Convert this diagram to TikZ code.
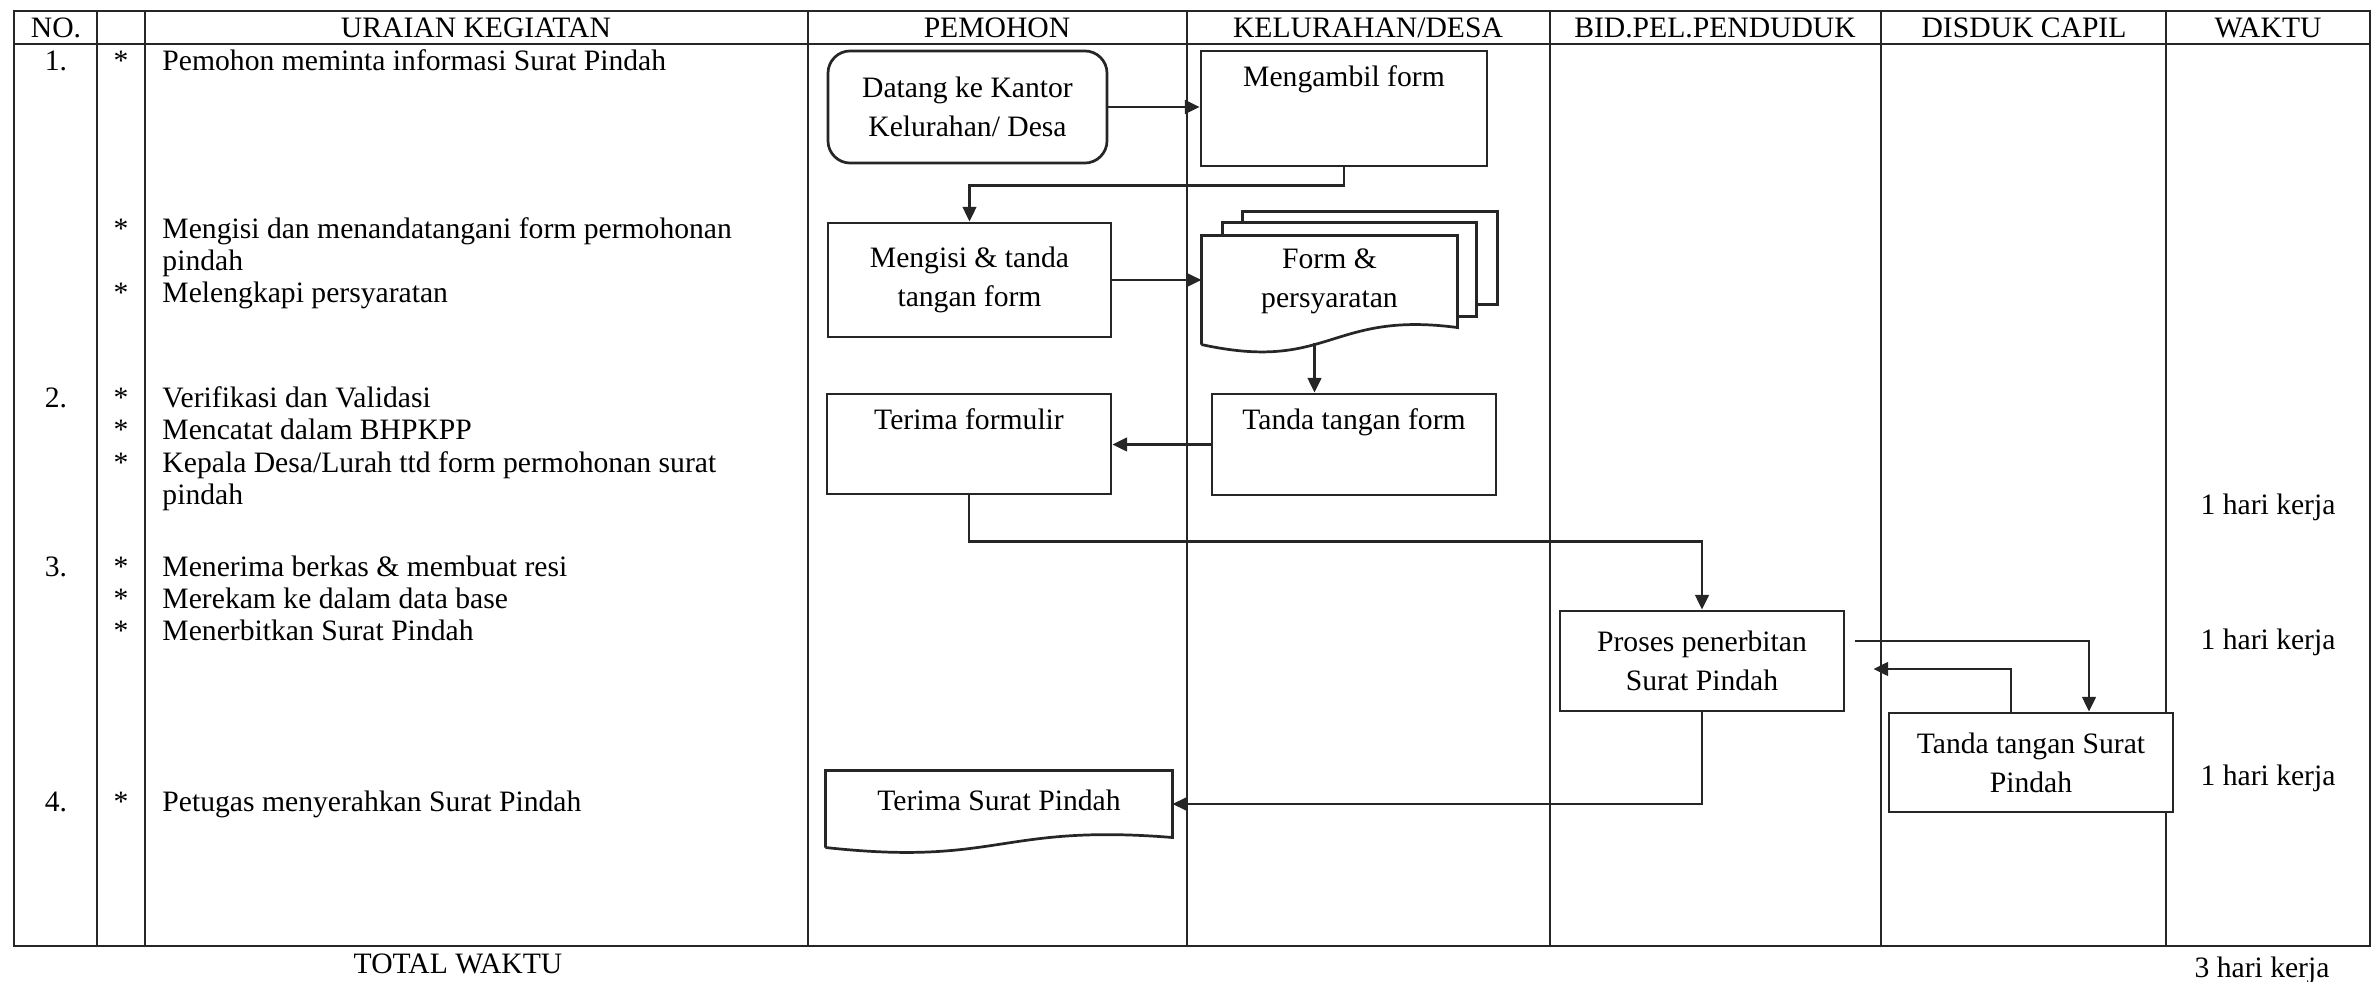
\documentclass[tikz,border=0pt]{standalone}
\usepackage{fontspec}
\setmainfont{Liberation Serif}
\usetikzlibrary{arrows.meta,calc}
\begin{document}
\begin{tikzpicture}[x=0.405pt,y=-0.405pt,
  grid/.style={line width=0.8pt, draw=black!85},
  boxline/.style={line width=1.1pt, draw=black!85},
  procbox/.style={boxline, fill=white, rectangle, inner sep=0pt,
    minimum width=115pt, minimum height=40.5pt, align=center,
    font=\fontsize{12}{15.8}\selectfont},
  docnode/.style={rectangle, inner sep=0pt, align=center,
    font=\fontsize{12}{15.8}\selectfont},
  toptext/.style={label={[anchor=base,yshift=-15pt,inner sep=0pt,
    font=\fontsize{12}{15.8}\selectfont]north:#1}},
  arr/.style={line width=1.1pt, draw=black!85,
    -{Triangle[length=6pt,width=5.5pt]}},
  head/.style={font=\fontsize{12}{14}\selectfont, inner sep=0pt},
  desc/.style={anchor=base west, inner sep=0pt, align=left,
    font=\fontsize{12}{13}\selectfont},
  basetxt/.style={anchor=base, inner sep=0pt, font=\fontsize{12}{13}\selectfont},
]
\useasboundingbox (0,0) rectangle (2374,982);

% ---- table frame ----
\draw[grid] (14,11) rectangle (2370,946);
\draw[grid] (14,44) -- (2370,44);
\foreach \cx in {97,145,808,1187,1550,1881,2166}
  \draw[grid] (\cx,11) -- (\cx,946);

% ---- column headings ----
\node[head] (hno)   at (56,28)   {NO.};
\node[head] (hur)   at (476,28)  {URAIAN KEGIATAN};
\node[head] (hpem)  at (997,28)  {PEMOHON};
\node[head] (hkel)  at (1368,28) {KELURAHAN/DESA};
\node[head] (hbid)  at (1715,28) {BID.PEL.PENDUDUK};
\node[head] (hdis)  at (2024,28) {DISDUK CAPIL};
\node[head] (hwak)  at (2268,28) {WAKTU};

% ---- step numbers ----
\node[basetxt] (n1) at (56,71)  {1.};
\node[basetxt] (n2) at (56,408) {2.};
\node[basetxt] (n3) at (56,577) {3.};
\node[basetxt] (n4) at (56,812) {4.};

% ---- bullets ----
\foreach \by/\bn in {71/s1,239/s2,303/s3,408/s4,440/s5,473/s6,577/s7,609/s8,641/s9,812/s10}
  \node[basetxt] (\bn) at (121,\by) {*};

% ---- activity descriptions (multi-line entries sit on their last baseline) ----
\node[desc] (d1)  at (162,71)  {Pemohon meminta informasi Surat Pindah};
\node[desc] (d2)  at (162,271) {Mengisi dan menandatangani form permohonan\\pindah};
\node[desc] (d3)  at (162,303) {Melengkapi persyaratan};
\node[desc] (d4)  at (162,408) {Verifikasi dan Validasi};
\node[desc] (d5)  at (162,440) {Mencatat dalam BHPKPP};
\node[desc] (d6)  at (162,505) {Kepala Desa/Lurah ttd form permohonan surat\\pindah};
\node[desc] (d7)  at (162,577) {Menerima berkas \& membuat resi};
\node[desc] (d8)  at (162,609) {Merekam ke dalam data base};
\node[desc] (d9)  at (162,641) {Menerbitkan Surat Pindah};
\node[desc] (d10) at (162,812) {Petugas menyerahkan Surat Pindah};

% ---- time column ----
\node[head] (w1) at (2268,507) {1 hari kerja};
\node[head] (w2) at (2268,642) {1 hari kerja};
\node[head] (w3) at (2268,778) {1 hari kerja};
\node[head] (tot)  at (458,964)  {TOTAL WAKTU};
\node[head] (tot3) at (2262,970) {3 hari kerja};

% ---- process boxes ----
\node[procbox, rounded corners=9pt, minimum width=113pt, minimum height=45.4pt]
  (datang) at (967.5,107) {Datang ke Kantor\\Kelurahan/ Desa};
\node[procbox, minimum width=115.8pt, minimum height=46.6pt, toptext=Mengambil form]
  (ambil) at (1344,108.5) {};
\node[procbox, minimum width=114.6pt, minimum height=46.2pt]
  (isi) at (969.5,280) {Mengisi \& tanda\\tangan form};
\node[procbox, minimum height=40.9pt, toptext=Tanda tangan form]
  (tanda) at (1354,444.5) {};
\node[procbox, toptext=Terima formulir]
  (terima) at (969,444) {};
\node[procbox] (proses) at (1702,661) {Proses penerbitan\\Surat Pindah};
\node[procbox, minimum height=40.1pt] (ttsurat) at (2031,762.5) {Tanda tangan Surat\\Pindah};

% ---- multi-document: Form & persyaratan ----
\node[docnode, minimum width=103.3pt, minimum height=36.5pt]
  (form) at (1329.5,281) {Form \&\\persyaratan};
\draw[boxline] ($(form.north west)+(41,-13)$) -- ++(0,-11)
  -| ($(form.north east)+(40,69)$) -- ($(form.north east)+(19,69)$);
\draw[boxline] ($(form.north west)+(21,0)$) -- ++(0,-13)
  -| ($(form.north east)+(19,81)$) -- ($(form.north east)+(0,81)$);
\draw[boxline] ($(form.south west)+(0,18)$) -- (form.north west) -- (form.north east)
  -- ($(form.south east)+(0,1)$)
  .. controls ($(form.south)+(0,-16)$) and ($(form.south)+(0,46)$)
  .. ($(form.south west)+(0,18)$);
\coordinate (formbot) at ($(form.south)+(-15,16)$);

% ---- document: Terima Surat Pindah ----
\node[docnode, minimum width=140.1pt, minimum height=23.5pt]
  (trsurat) at (999,800) {Terima Surat Pindah};
\draw[boxline] ($(trsurat.south west)+(0,18)$) -- (trsurat.north west) -- (trsurat.north east)
  -- ($(trsurat.south east)+(0,8)$)
  .. controls ($(trsurat.south)+(0,-6)$) and ($(trsurat.south)+(0,37)$)
  .. ($(trsurat.south west)+(0,18)$);

% ---- flow ----
\draw[arr] (datang.east) -- (datang.east -| ambil.west);
\draw[arr] (ambil.south) -- ++(0,18) -| (isi.north);
\draw[arr] (isi.east) -- (isi.east -| form.west);
\draw[arr] (formbot) -- (formbot |- tanda.north);
\draw[arr] (tanda.west) -- (tanda.west -| terima.east);
\draw[arr] (terima.south) -- ++(0,46) -| (proses.north);
\draw[arr] ($(proses.east)+(10,-20)$) -| ($(ttsurat.north)+(58,0)$);
\draw[arr] ($(ttsurat.north)+(-20,0)$) |- ($(proses.east)+(28,8)$);
\draw[arr] (proses.south) |- ($(trsurat.east)+(0,4)$);
\end{tikzpicture}
\end{document}
